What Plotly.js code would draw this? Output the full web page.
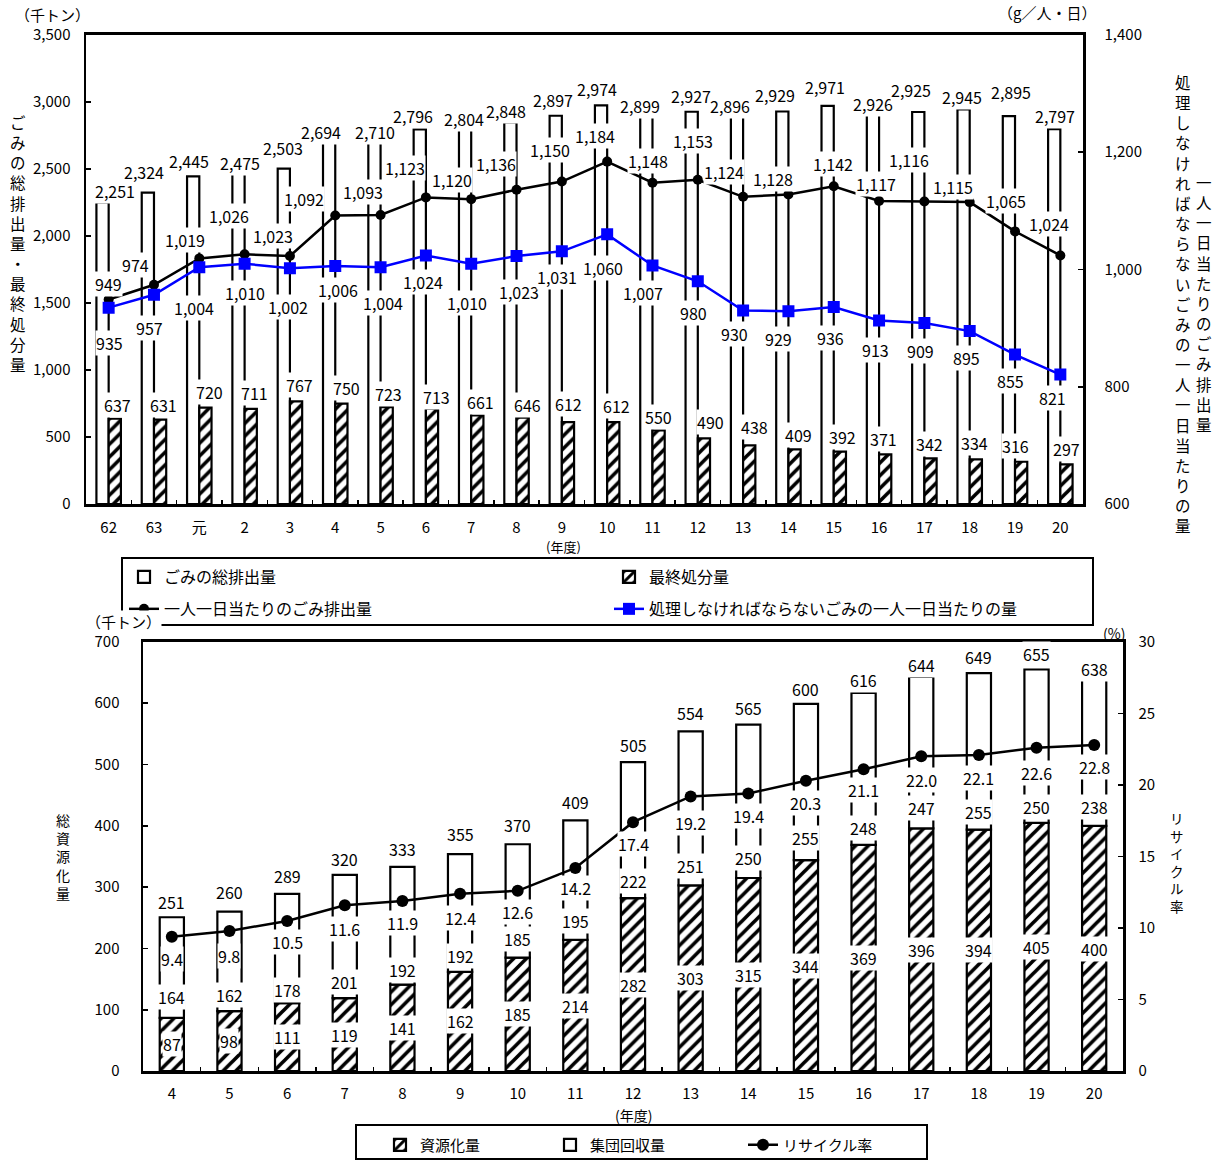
<!DOCTYPE html>
<html><head><meta charset="utf-8">
<script src="https://cdn.plot.ly/plotly-3.0.1.min.js"></script>
<style>html,body{margin:0;padding:0;background:#fff}</style>
</head><body><div id="chart" style="width:1215px;height:1162px"></div>
<script>
// ---- Top chart data ----
const years1 = ['62','63','元','2','3','4','5','6','7','8','9','10','11','12','13','14','15','16','17','18','19','20'];
const totalWaste = [2251,2324,2445,2475,2503,2694,2710,2796,2804,2848,2897,2974,2899,2927,2896,2929,2971,2926,2925,2945,2895,2797];
const finalDisposal = [637,631,720,711,767,750,723,713,661,646,612,612,550,490,438,409,392,371,342,334,316,297];
const perCapita = [949,974,1019,1026,1023,1092,1093,1123,1120,1136,1150,1184,1148,1153,1124,1128,1142,1117,1116,1115,1065,1024];
const perCapitaTreated = [935,957,1004,1010,1002,1006,1004,1024,1010,1023,1031,1060,1007,980,930,929,936,913,909,895,855,821];

// ---- Bottom chart data ----
const years2 = ['4','5','6','7','8','9','10','11','12','13','14','15','16','17','18','19','20'];
const resourceAmt = [87,98,111,119,141,162,185,214,282,303,315,344,369,396,394,405,400];
const groupCollect = [164,162,178,201,192,192,185,195,222,251,250,255,248,247,255,250,238];
const totalResource = [251,260,289,320,333,355,370,409,505,554,565,600,616,644,649,655,638];
const recycleRate = [9.4,9.8,10.5,11.6,11.9,12.4,12.6,14.2,17.4,19.2,19.4,20.3,21.1,22.0,22.1,22.6,22.8];

// ---- label offsets (pixels, style only) ----
const totDx = [6,-10,-10,-5,-7,-14,-6,-13,-7,-11,-9,-10,-12,-7,-13,-13,-9,-6,-13,-8,-4,-5];
const totDy = [11,21,15,9,21,11,9,13,9,11,16,16,10,16,10,16,19,8,22,12,24,13];
const finDx = [9,10,10,10,10,11,8,11,9,11,7,9,6,13,11,10,9,4,5,5,0,6];
const finDy = [14,15,16,16,16,16,13,12,14,13,18,16,13,16,18,14,15,15,14,16,16,15];
const pcDx = [0,-18,-14,-16,-17,-31,-18,-21,-19,-21,-12,-12,-4,-5,-19,-15,-1,-3,-15,-17,-9,-11];
const pcDy = [15,20,18,38,20,17,23,29,19,26,32,26,22,39,25,15,22,17,41,15,30,31];
const trDx = [1,-4,-5,0,-2,3,2,-3,-4,2,-5,-4,-9,-4,-9,-10,-3,-4,-4,-3,-5,-8];
const trDy = [35,33,41,29,39,24,36,27,39,36,26,34,28,32,23,28,31,29,28,27,26,23];
const tot2Dy = [15,20,18,16,18,19,19,18,16,18,17,14,13,11,16,15,11];
const grpDy = [21,16,13,16,15,16,19,19,17,19,20,22,17,20,18,16,19];
const rateDy = [22,25,21,24,22,24,21,20,22,27,22,22,21,24,23,25,22];

const FONT = 'Noto Sans CJK JP, sans-serif';
const W = 1215, H = 1162;
const fmt = v => String(v).replace(/\B(?=(\d{3})+(?!\d))/g, ',');
const px = v => v / W, py = v => 1 - v / H;
const hatch = {shape:'/', fgcolor:'#000', bgcolor:'#fff', size:9, solidity:0.4};

const traces = [
  {type:'bar', name:'ごみの総排出量', x:years1, y:totalWaste, xaxis:'x', yaxis:'y',
   width:0.27, offset:-0.27, marker:{color:'#fff', line:{color:'#000', width:2.2}},
   legend:'legend', legendwidth:440, hoverinfo:'skip'},
  {type:'bar', name:'最終処分量', x:years1, y:finalDisposal, xaxis:'x', yaxis:'y',
   width:0.27, offset:0, marker:{color:'#fff', pattern:hatch, line:{color:'#000', width:2.2}},
   legend:'legend', hoverinfo:'skip'},
  {type:'scatter', mode:'lines+markers', name:'一人一日当たりのごみ排出量', x:years1, y:perCapita,
   xaxis:'x', yaxis:'y2', line:{color:'#000', width:2.5}, marker:{symbol:'circle', size:10, color:'#000'},
   legend:'legend2', legendwidth:440},
  {type:'scatter', mode:'lines+markers', name:'処理しなければならないごみの一人一日当たりの量', x:years1, y:perCapitaTreated,
   xaxis:'x', yaxis:'y2', line:{color:'#0000ff', width:2.5}, marker:{symbol:'square', size:12, color:'#0000ff'},
   legend:'legend2'},
  {type:'bar', name:'資源化量', x:years2, y:resourceAmt, xaxis:'x2', yaxis:'y3',
   width:0.42, offset:-0.21, marker:{color:'#fff', pattern:hatch, line:{color:'#000', width:2.2}},
   legend:'legend3', legendwidth:125},
  {type:'bar', name:'集団回収量', x:years2, y:groupCollect, base:resourceAmt, xaxis:'x2', yaxis:'y3',
   width:0.42, offset:-0.21, marker:{color:'#fff', line:{color:'#000', width:2.2}},
   legend:'legend3', legendwidth:148},
  {type:'scatter', mode:'lines+markers', name:'リサイクル率', x:years2, y:recycleRate,
   xaxis:'x2', yaxis:'y4', line:{color:'#000', width:2.5}, marker:{symbol:'circle', size:12, color:'#000'},
   legend:'legend3'}
];

const anns = [];
function lab(x, y, text, xref, yref, xs, ys) {
  anns.push({x, y, xref, yref, text, showarrow:false, xshift:xs, yshift:ys, xanchor:'center', yanchor:'middle',
    bgcolor:'#fff', borderpad:0, font:{family:FONT, size:16, color:'#000'}});
}
years1.forEach((c, i) => {
  lab(i, totalWaste[i], fmt(totalWaste[i]), 'x', 'y', totDx[i], totDy[i]);
  lab(i, finalDisposal[i], fmt(finalDisposal[i]), 'x', 'y', finDx[i], finDy[i]);
  lab(i, perCapita[i], fmt(perCapita[i]), 'x', 'y2', pcDx[i], pcDy[i]);
  lab(i, perCapitaTreated[i], fmt(perCapitaTreated[i]), 'x', 'y2', trDx[i], -trDy[i]);
});
years2.forEach((c, i) => {
  lab(i, totalResource[i], fmt(totalResource[i]), 'x2', 'y3', 0, tot2Dy[i]);
  lab(i, resourceAmt[i], fmt(groupCollect[i]), 'x2', 'y3', 0, grpDy[i]);
  lab(i, resourceAmt[i] / 2, fmt(resourceAmt[i]), 'x2', 'y3', 0, 0);
  lab(i, recycleRate[i], recycleRate[i].toFixed(1), 'x2', 'y4', 0, -rateDy[i]);
});

function ptext(x, y, text, size, extra) {
  anns.push(Object.assign({x:px(x), y:py(y), xref:'paper', yref:'paper', text, showarrow:false,
    xanchor:'center', yanchor:'middle', font:{family:FONT, size, color:'#000'}}, extra || {}));
}
const vert = s => s.split('').join('<br>');
ptext(52, 15, '（千トン）', 15);
ptext(1047, 13, '（g／人・日）', 15);
ptext(18, 243, vert('ごみの総排出量・最終処分量'), 15.5);
ptext(1183, 304, vert('処理しなければならないごみの一人一日当たりの量'), 15.5);
ptext(1204, 304, vert('一人一日当たりのごみ排出量'), 15.5);
ptext(563, 547, '(年度)', 13);
ptext(123, 623, '（千トン）', 15, {bgcolor:'#fff', borderpad:0});
ptext(1114, 634, '(%)', 14);
ptext(63, 858, vert('総資源化量'), 14);
ptext(1177, 863, vert('リサイクル率'), 13.5);
ptext(633, 1117, '(年度)', 14);

const axBase = {showline:true, linecolor:'#000', linewidth:2.5, showgrid:false, zeroline:false,
  ticks:'inside', ticklen:5, tickcolor:'#000', tickwidth:1.5, automargin:false,
  tickfont:{family:FONT, size:15, color:'#000'}};

const layout = {
  width:W, height:H, margin:{l:0, r:0, t:0, b:0}, paper_bgcolor:'#fff', plot_bgcolor:'rgba(0,0,0,0)',
  barmode:'overlay', font:{family:FONT, color:'#000'},
  xaxis:Object.assign({}, axBase, {type:'category', domain:[px(86), px(1083)], anchor:'y', mirror:true,
    range:[-0.5, years1.length - 0.5], tickson:'boundaries', ticklen:4, ticklabelstandoff:8}),
  yaxis:Object.assign({}, axBase, {domain:[py(505), py(35)], anchor:'x', range:[0,3500], dtick:500,
    tickformat:',d', mirror:true, ticklabelstandoff:10}),
  yaxis2:Object.assign({}, axBase, {overlaying:'y', side:'right', anchor:'x', range:[600,1400], dtick:200,
    tickformat:',d', ticklabelstandoff:16}),
  xaxis2:Object.assign({}, axBase, {type:'category', domain:[px(143), px(1123)], anchor:'y3', mirror:true,
    range:[-0.5, years2.length - 0.5], tickson:'boundaries', ticklen:4, ticklabelstandoff:7}),
  yaxis3:Object.assign({}, axBase, {domain:[py(1073), py(643)], anchor:'x2', range:[0,700], dtick:100,
    mirror:true, ticklabelstandoff:18}),
  yaxis4:Object.assign({}, axBase, {overlaying:'y3', side:'right', anchor:'x2', range:[0,30], dtick:5,
    ticklabelstandoff:10}),
  legend:{orientation:'h', x:px(124), xanchor:'left', y:py(578), yanchor:'middle', bgcolor:'rgba(0,0,0,0)',
    borderwidth:0, font:{family:FONT, size:16, color:'#000'}},
  legend2:{orientation:'h', x:px(124), xanchor:'left', y:py(610), yanchor:'middle', bgcolor:'rgba(0,0,0,0)',
    borderwidth:0, font:{family:FONT, size:16, color:'#000'}},
  legend3:{orientation:'h', x:px(380), xanchor:'left', y:py(1147), yanchor:'middle', bgcolor:'rgba(0,0,0,0)',
    borderwidth:0, font:{family:FONT, size:15, color:'#000'}},
  shapes:[
    {type:'rect', xref:'paper', yref:'paper', x0:px(122), x1:px(1093), y0:py(626), y1:py(559),
     line:{color:'#000', width:2}, layer:'below'},
    {type:'rect', xref:'paper', yref:'paper', x0:px(356), x1:px(927), y0:py(1161), y1:py(1127),
     line:{color:'#000', width:2}, layer:'below'}
  ],
  annotations:anns
};

Plotly.newPlot('chart', traces, layout, {staticPlot:true, displayModeBar:false});
</script></body></html>
